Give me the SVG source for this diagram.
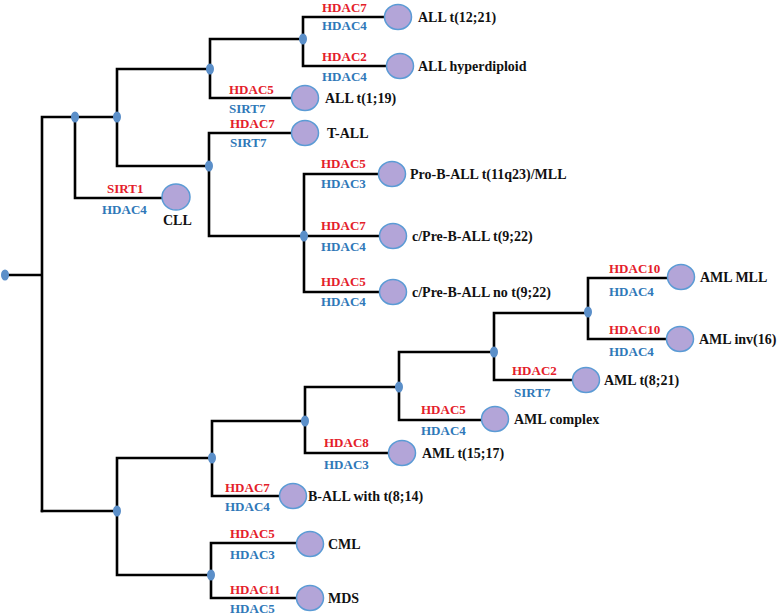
<svg xmlns="http://www.w3.org/2000/svg" width="778" height="615" viewBox="0 0 778 615">
<style>
.e{fill:none;stroke:#000;stroke-width:2.6;stroke-linecap:square}
.d{fill:#5b8fc9}
.n{fill:#b3a5d8;stroke:#5b9bd5;stroke-width:1.5}
.t{font-family:"Liberation Serif","Times New Roman",serif;font-weight:bold;font-size:14px;fill:#111}
.r{font-family:"Liberation Serif","Times New Roman",serif;font-weight:bold;font-size:13px;fill:#e4202a}
.b{font-family:"Liberation Serif","Times New Roman",serif;font-weight:bold;font-size:13px;fill:#2f78b8}
</style>
<rect width="778" height="615" fill="#fff"/>
<g id="connectors">
<path class="e" d="M5,275H42M42,117V511M42,117H75M75,117V198M75,198H162M75,117H117M117,69V166M117,69H210M210,39V98M210,39H303M303,17V66M303,17H385M303,66H387M210,98H292M117,166H209M209,133V236M209,133H292M209,236H304M304,174V292M304,174H379M304,236H380M304,292H380"/>
<path class="e" d="M42,511H117M117,458V575M117,458H212M212,421V496M212,496H280M212,421H305M305,387V453M305,453H389M305,387H399M399,352V420M399,420H482M399,352H494M494,313V380M494,380H573M494,313H588M588,278V339M588,278H668M588,339H667M117,575H211M211,543V598M211,543H297M211,598H297"/>
<g id="branch-points">
<ellipse class="d" cx="5" cy="275" rx="4" ry="5.5"/>
<ellipse class="d" cx="75" cy="117" rx="4" ry="5.5"/>
<ellipse class="d" cx="117" cy="117" rx="4" ry="5.5"/>
<ellipse class="d" cx="210" cy="69" rx="4" ry="5.5"/>
<ellipse class="d" cx="303" cy="39" rx="4" ry="5.5"/>
<ellipse class="d" cx="209" cy="166" rx="4" ry="5.5"/>
<ellipse class="d" cx="304" cy="236" rx="4" ry="5.5"/>
<ellipse class="d" cx="117" cy="511" rx="4" ry="5.5"/>
<ellipse class="d" cx="211" cy="575" rx="4" ry="5.5"/>
<ellipse class="d" cx="212" cy="458" rx="4" ry="5.5"/>
<ellipse class="d" cx="305" cy="421" rx="4" ry="5.5"/>
<ellipse class="d" cx="399" cy="387" rx="4" ry="5.5"/>
<ellipse class="d" cx="494" cy="352" rx="4" ry="5.5"/>
<ellipse class="d" cx="588" cy="312" rx="4" ry="5.5"/>
</g>
</g>
<g id="node-all-t12-21"><ellipse class="n" cx="398" cy="17" rx="13.5" ry="12.5"/><text class="t" x="418" y="22">ALL t(12;21)</text><text class="r" x="322" y="12">HDAC7</text><text class="b" x="322" y="30">HDAC4</text></g>
<g id="node-all-hyperdiploid"><ellipse class="n" cx="400" cy="66" rx="13.5" ry="12.5"/><text class="t" x="418" y="71">ALL hyperdiploid</text><text class="r" x="322" y="61">HDAC2</text><text class="b" x="322" y="81">HDAC4</text></g>
<g id="node-all-t1-19"><ellipse class="n" cx="305" cy="98" rx="13.5" ry="12.5"/><text class="t" x="325" y="103">ALL t(1;19)</text><text class="r" x="229" y="94">HDAC5</text><text class="b" x="229" y="113">SIRT7</text></g>
<g id="node-t-all"><ellipse class="n" cx="305" cy="133" rx="13.5" ry="12.5"/><text class="t" x="327" y="138">T-ALL</text><text class="r" x="230" y="128">HDAC7</text><text class="b" x="230" y="147">SIRT7</text></g>
<g id="node-pro-b-all"><ellipse class="n" cx="392" cy="174" rx="13.5" ry="12.5"/><text class="t" x="410" y="179">Pro-B-ALL t(11q23)/MLL</text><text class="r" x="321" y="168">HDAC5</text><text class="b" x="321" y="188">HDAC3</text></g>
<g id="node-c-pre-b-all-t9-22"><ellipse class="n" cx="393" cy="236" rx="13.5" ry="12.5"/><text class="t" x="412" y="241">c/Pre-B-ALL t(9;22)</text><text class="r" x="321" y="230">HDAC7</text><text class="b" x="321" y="251">HDAC4</text></g>
<g id="node-c-pre-b-all-no-t9-22"><ellipse class="n" cx="393" cy="292" rx="13.5" ry="12.5"/><text class="t" x="412" y="297">c/Pre-B-ALL no t(9;22)</text><text class="r" x="321" y="286">HDAC5</text><text class="b" x="321" y="306">HDAC4</text></g>
<g id="node-cll"><ellipse class="n" cx="176" cy="197" rx="14" ry="13"/><text class="t" x="163" y="225">CLL</text><text class="r" x="107" y="193">SIRT1</text><text class="b" x="102" y="214">HDAC4</text></g>
<g id="node-aml-mll"><ellipse class="n" cx="681" cy="277" rx="13.5" ry="12.5"/><text class="t" x="700" y="282">AML MLL</text><text class="r" x="609" y="273">HDAC10</text><text class="b" x="609" y="296">HDAC4</text></g>
<g id="node-aml-inv16"><ellipse class="n" cx="680" cy="339" rx="13.5" ry="12.5"/><text class="t" x="699" y="344">AML inv(16)</text><text class="r" x="609" y="334">HDAC10</text><text class="b" x="609" y="356">HDAC4</text></g>
<g id="node-aml-t8-21"><ellipse class="n" cx="586" cy="380" rx="13.5" ry="12.5"/><text class="t" x="604" y="385">AML t(8;21)</text><text class="r" x="512" y="375">HDAC2</text><text class="b" x="514" y="397">SIRT7</text></g>
<g id="node-aml-complex"><ellipse class="n" cx="495" cy="419" rx="13.5" ry="12.5"/><text class="t" x="514" y="424">AML complex</text><text class="r" x="421" y="414">HDAC5</text><text class="b" x="421" y="435">HDAC4</text></g>
<g id="node-aml-t15-17"><ellipse class="n" cx="402" cy="453" rx="13.5" ry="12.5"/><text class="t" x="422" y="458">AML t(15;17)</text><text class="r" x="324" y="447">HDAC8</text><text class="b" x="324" y="469">HDAC3</text></g>
<g id="node-b-all-t8-14"><ellipse class="n" cx="293" cy="496" rx="13.5" ry="12.5"/><text class="t" x="308" y="501">B-ALL with t(8;14)</text><text class="r" x="225" y="492">HDAC7</text><text class="b" x="225" y="511">HDAC4</text></g>
<g id="node-cml"><ellipse class="n" cx="310" cy="544" rx="13.5" ry="12.5"/><text class="t" x="328" y="549">CML</text><text class="r" x="230" y="538">HDAC5</text><text class="b" x="230" y="559">HDAC3</text></g>
<g id="node-mds"><ellipse class="n" cx="310" cy="598" rx="13.5" ry="12.5"/><text class="t" x="328" y="603">MDS</text><text class="r" x="230" y="594">HDAC11</text><text class="b" x="230" y="613">HDAC5</text></g>
</svg>
